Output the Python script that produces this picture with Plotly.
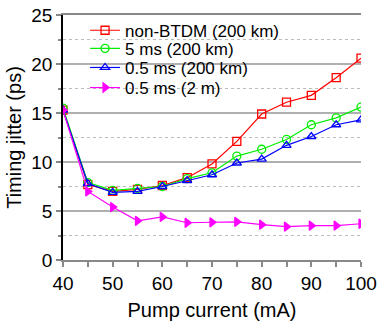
import plotly.graph_objects as go

current = [40, 45, 50, 55, 60, 65, 70, 75, 80, 85, 90, 95, 100]
non_btdm = [15.3, 7.7, 7.0, 7.2, 7.6, 8.4, 9.8, 12.1, 14.9, 16.1, 16.8, 18.6, 20.6]
ms5 = [15.5, 7.9, 7.1, 7.3, 7.5, 8.3, 8.9, 10.6, 11.3, 12.3, 13.8, 14.5, 15.6]
ms05 = [15.3, 7.8, 6.9, 7.0, 7.5, 8.1, 8.7, 9.9, 10.3, 11.7, 12.6, 13.8, 14.3]
ms05_2m = [15.3, 7.0, 5.4, 4.0, 4.4, 3.8, 3.85, 3.9, 3.6, 3.4, 3.5, 3.5, 3.7]
names = ["non-BTDM (200 km)", "5 ms (200 km)", "0.5 ms (200 km)", "0.5 ms (2 m)"]

series = [
    (non_btdm, "#ff0000", "square-open"),
    (ms5, "#00ee00", "circle-open"),
    (ms05, "#0000ff", "triangle-up-open"),
    (ms05_2m, "#ff00ff", "triangle-right"),
]
legend_ids = ["legend", "legend2", "legend3", "legend4"]
legend_y = [0.936, 0.862, 0.784, 0.702]

fig = go.Figure()
for (vals, col, sym), nm, lid in zip(series, names, legend_ids):
    fig.add_trace(go.Scatter(
        x=current, y=vals, name=nm, mode="lines+markers", legend=lid,
        line=dict(color=col, width=1.2),
        marker=dict(symbol=sym, size=8, color=col, line=dict(color=col, width=1.3)),
    ))

# white box behind the legend (covers grid lines like the original)
fig.add_shape(type="rect", xref="paper", yref="paper",
              x0=0.074, x1=0.705, y0=0.661, y1=0.985,
              fillcolor="white", line=dict(width=0), layer="between")

font = "Liberation Sans, Arial, sans-serif"
leg_common = dict(x=0.074, xanchor="left", yanchor="middle", bgcolor="rgba(0,0,0,0)",
                  borderwidth=0, font=dict(size=17, family=font))
fig.update_layout(
    width=378, height=321,
    margin=dict(l=63, r=17, t=15, b=61, autoexpand=False),
    paper_bgcolor="white", plot_bgcolor="white",
    font=dict(family=font, color="black"),
    showlegend=True,
    legend=dict(y=legend_y[0], **leg_common),
    legend2=dict(y=legend_y[1], **leg_common),
    legend3=dict(y=legend_y[2], **leg_common),
    legend4=dict(y=legend_y[3], **leg_common),
    xaxis=dict(
        range=[40, 100], dtick=10, tick0=40, automargin=False,
        showgrid=False, zeroline=False,
        showline=True, linecolor="#888888", linewidth=2, mirror=True,
        ticks="outside", ticklen=5, tickcolor="#888888", tickwidth=1.5,
        tickfont=dict(size=19),
        minor=dict(dtick=5, ticks="outside", ticklen=5, tickcolor="#888888", showgrid=False),
        title=dict(text="Pump current (mA)", font=dict(size=20), standoff=10),
    ),
    yaxis=dict(
        range=[0, 25], dtick=5, tick0=0, automargin=False,
        showgrid=True, gridcolor="#b0b0b0", gridwidth=2,
        zeroline=False,
        showline=True, linecolor="black", linewidth=1.5,
        ticks="outside", ticklen=5, tickcolor="#888888", tickwidth=1.5,
        tickfont=dict(size=19),
        minor=dict(dtick=2.5, ticks="outside", ticklen=3, tickcolor="#888888",
                   showgrid=True, gridcolor="#bbbbbb", griddash="dot", gridwidth=1),
        title=dict(text="Timing jitter (ps)", font=dict(size=20), standoff=4),
    ),
)
fig.write_html("out.html")
